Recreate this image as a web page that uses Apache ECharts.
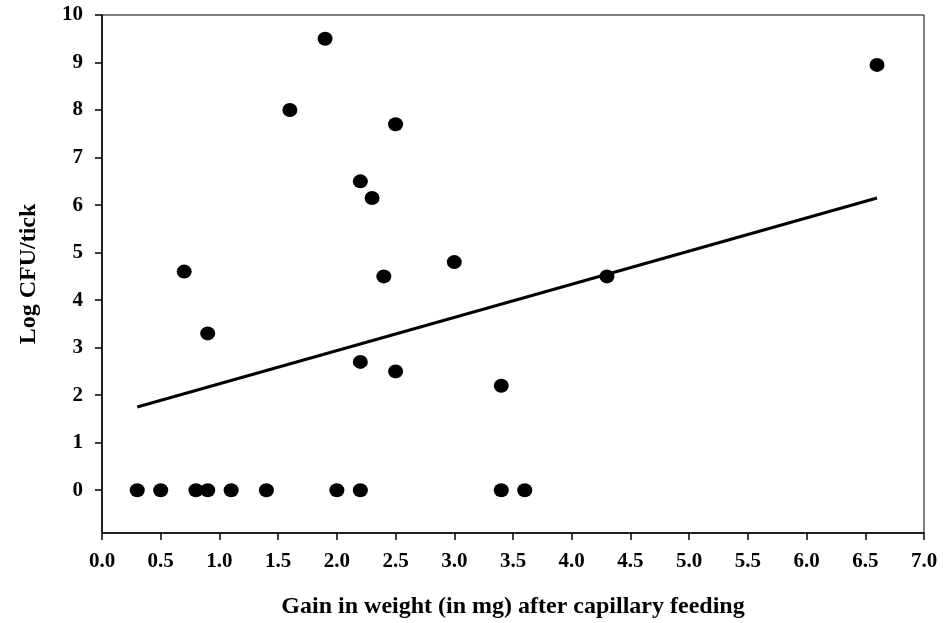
<!DOCTYPE html>
<html>
<head>
<meta charset="utf-8">
<script src="https://cdn.jsdelivr.net/npm/echarts@6/dist/echarts.min.js"></script>
<style>
html,body{margin:0;padding:0;background:#fff;}
#c{width:943px;height:623px;}
</style>
</head>
<body>
<div id="c"></div>
<script>
const pointX = [0.3, 0.5, 0.8, 0.9, 1.1, 1.4, 2.0, 2.2, 3.4, 3.6,
                0.7, 0.9, 1.6, 1.9, 2.2, 2.3, 2.5, 2.4, 2.2, 2.5, 3.0, 3.4, 4.3, 6.6];
const pointY = [0, 0, 0, 0, 0, 0, 0, 0, 0, 0,
                4.6, 3.3, 8.0, 9.5, 6.5, 6.15, 7.7, 4.5, 2.7, 2.5, 4.8, 2.2, 4.5, 8.95];
const lineX = [0.3, 6.6];
const lineY = [1.75, 6.15];
const yTicks = [0, 1, 2, 3, 4, 5, 6, 7, 8, 9, 10];
const xTitle = 'Gain in weight (in mg) after capillary feeding';
const yTitle = 'Log CFU/tick';

const font = '"Liberation Serif", "Times New Roman", serif';
const chart = echarts.init(document.getElementById('c'));
chart.setOption({
  animation: false,
  backgroundColor: '#fff',
  grid: {left: 102, right: 19, top: 15, bottom: 90, show: true, borderColor: '#000', borderWidth: 1,
         containLabel: false, outerBoundsMode: 'none'},
  xAxis: {
    type: 'value', min: 0, max: 7, interval: 0.5,
    name: xTitle, nameLocation: 'middle', nameGap: 62,
    nameTextStyle: {fontFamily: font, fontWeight: 'bold', fontSize: 24, color: '#000'},
    axisLine: {show: true, onZero: false, lineStyle: {color: '#000', width: 1.5}},
    axisTick: {show: true, inside: false, length: 7, lineStyle: {color: '#000', width: 1.5}},
    axisLabel: {color: '#000', fontFamily: font, fontWeight: 'bold', fontSize: 21, margin: 18,
                formatter: v => v.toFixed(1)},
    splitLine: {show: false}
  },
  yAxis: {
    type: 'value', min: -0.9, max: 10,
    name: yTitle, nameLocation: 'middle', nameGap: 61, nameRotate: 90,
    nameTextStyle: {fontFamily: font, fontWeight: 'bold', fontSize: 24, color: '#000'},
    axisLine: {show: true, onZero: false, lineStyle: {color: '#000', width: 1.5}},
    axisTick: {show: true, inside: false, length: 7, customValues: yTicks, lineStyle: {color: '#000', width: 1.5}},
    axisLabel: {color: '#000', fontFamily: font, fontWeight: 'bold', fontSize: 21, margin: 19, customValues: yTicks},
    splitLine: {show: false}
  },
  series: [
    {
      type: 'line',
      data: lineX.map((x, i) => [x, lineY[i]]),
      symbol: 'none',
      lineStyle: {color: '#000', width: 3},
      z: 2
    },
    {
      type: 'scatter',
      data: pointX.map((x, i) => [x, pointY[i]]),
      symbol: 'circle',
      symbolSize: [15, 14],
      itemStyle: {color: '#000', opacity: 1},
      z: 3
    }
  ]
});
</script>
</body>
</html>
